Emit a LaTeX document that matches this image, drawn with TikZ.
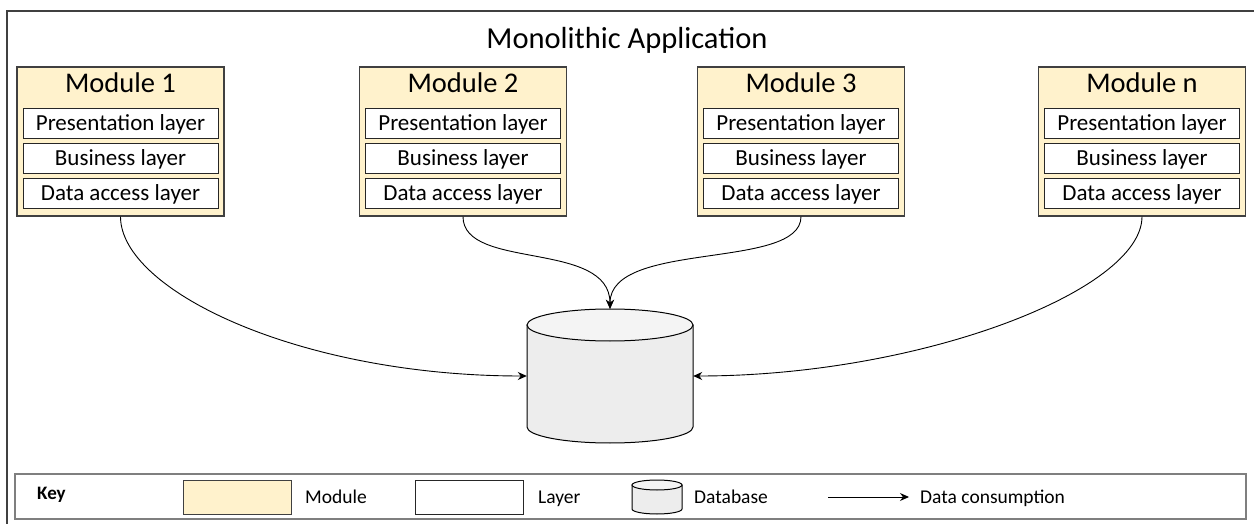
\documentclass[tikz,border=0pt]{standalone}
\usepackage{fontspec}
\setmainfont{Carlito}
\usetikzlibrary{arrows.meta}
\definecolor{modfill}{HTML}{FFF2CC}
\definecolor{modline}{HTML}{404040}
\definecolor{dbbody}{HTML}{EDEDED}
\definecolor{dbtop}{HTML}{F4F4F4}
\definecolor{keyline}{HTML}{7F7F7F}
\tikzset{
  module/.style={draw=modline, fill=modfill, line width=1.2pt, minimum width=207pt, minimum height=149pt, inner sep=0pt},
  modtitle/.style={font=\fontsize{28.5}{32}\selectfont, inner sep=0pt},
  layer/.style={draw=black!85, fill=white, line width=1pt, minimum width=195pt, minimum height=30pt, inner sep=0pt, font=\fontsize{23}{26}\selectfont},
  flow/.style={line width=0.9pt, -{Stealth[length=9pt,width=8pt]}},
  keytext/.style={font=\fontsize{19.5}{22}\selectfont, anchor=base west, inner sep=0pt},
  swatch/.style={line width=1pt, minimum width=108pt, minimum height=34pt, inner sep=0pt}
}
\begin{document}
\begin{tikzpicture}[x=1pt,y=1pt]
\useasboundingbox (0,0) rectangle (1254,523);
\begin{scope}
\clip (0,0) rectangle (1254,523);
\draw[modline, line width=1.2pt] (7,-5) rectangle (1262,512);
\end{scope}
\node[font=\fontsize{30.5}{34}\selectfont, inner sep=0pt] (title) at (627,483) {Monolithic Application};
% modules
\foreach \n/\cx/\lab in {m1/120.5/Module 1, m2/463/Module 2, m3/801/Module 3, mn/1142/Module n}{
  \node[module] (\n) at (\cx,381.5) {};
  \node[modtitle] (\n t) at (\cx,440) {\lab};
  \node[layer] (\n p) at (\cx,399) {Presentation layer};
  \node[layer] (\n b) at (\cx,364) {Business layer};
  \node[layer] (\n d) at (\cx,329) {Data access layer};
}
% database
\node[minimum width=166pt, minimum height=134pt, inner sep=0pt] (db) at (610,147) {};
\draw[line width=1pt, fill=dbbody] (527,198) -- (527,96) arc[start angle=180,end angle=360,x radius=83pt,y radius=16pt] -- (693,198) -- cycle;
\draw[line width=1pt, fill=dbtop] (610,198) ellipse [x radius=83pt, y radius=16pt];
% connectors
\draw[flow] (m1.south) .. controls +(0,-74) and +(-227,0) .. (db.west);
\draw[flow] (mn.south) .. controls +(0,-74) and +(227,0) .. (db.east);
\draw[flow] (m2.south) .. controls +(0,-54) and +(0,69) .. (db.north);
\draw[flow] (m3.south) .. controls +(0,-54) and +(0,69) .. (db.north);
% key
\node[draw=keyline, line width=1.3pt, minimum width=1231pt, minimum height=45pt, inner sep=0pt] (key) at (630.5,26.5) {};
\node[keytext, font=\fontsize{19}{22}\selectfont\bfseries] (keyl) at (37,24) {Key};
\node[swatch, draw=modline, fill=modfill] (kmod) at (237,26) {};
\node[keytext] (kmodt) at (305,20) {Module};
\node[swatch, draw=black!85, fill=white] (klay) at (469,26) {};
\node[keytext] (klayt) at (538,20) {Layer};
\node[minimum width=50pt, minimum height=34pt, inner sep=0pt] (kdb) at (657,26) {};
\draw[line width=1pt, fill=dbbody] (632,38) -- (632,14) arc[start angle=180,end angle=360,x radius=25pt,y radius=5pt] -- (682,38) -- cycle;
\draw[line width=1pt, fill=dbtop] (657,38) ellipse [x radius=25pt, y radius=5pt];
\node[keytext] (kdbt) at (694,20) {Database};
\coordinate (ka) at (828,26);
\coordinate (kb) at (909,26);
\draw[flow] (ka) -- (kb);
\node[keytext] (kflow) at (920,20) {Data consumption};
\end{tikzpicture}
\end{document}
